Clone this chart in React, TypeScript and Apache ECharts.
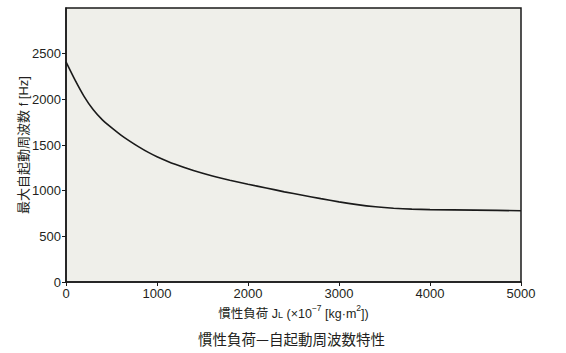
import React, { useEffect, useRef } from "react";
import * as echarts from "echarts";

const inertia = [0, 100, 200, 300, 400, 500, 600, 700, 800, 900, 1000, 1200, 1400, 1600, 1800, 2000, 2200, 2400, 2600, 2800, 3000, 3200, 3400, 3600, 3800, 4000, 4500, 5000];
const frequency = [2410, 2210, 2030, 1885, 1775, 1690, 1612, 1543, 1480, 1422, 1372, 1288, 1220, 1163, 1115, 1070, 1030, 987, 950, 913, 877, 847, 824, 808, 798, 792, 787, 780];
const yTicks = [0, 500, 1000, 1500, 2000, 2500];
const xTicks = [0, 1000, 2000, 3000, 4000, 5000];

const NUM_FONT = "'Liberation Sans', sans-serif";
const CJK_FONT = "'Liberation Sans', 'Noto Sans CJK JP', sans-serif";
const TEXT = "#231f20";

export default function App() {
  const ref = useRef<HTMLDivElement>(null);
  useEffect(() => {
    document.body.style.margin = "0";
    const chart = echarts.init(ref.current!, null, { renderer: "svg" });
    chart.setOption({
      animation: false,
      backgroundColor: "#ffffff",
      grid: {
        left: 66,
        right: 45,
        top: 8,
        bottom: 71,
        containLabel: false,
        outerBoundsMode: "none",
        show: true,
        backgroundColor: "#efefea",
        borderColor: "#1a1a1a",
        borderWidth: 1.5,
      },
      xAxis: {
        type: "value",
        min: 0,
        max: 5000,
        interval: 1000,
        splitLine: { show: false },
        axisLine: { show: true, lineStyle: { color: "#1a1a1a", width: 1.5 } },
        axisTick: { show: true, length: 4, lineStyle: { color: "#1a1a1a" }, customValues: xTicks },
        axisLabel: {
          customValues: xTicks,
          formatter: (v: number) => String(v),
          margin: 5,
          fontSize: 13,
          fontFamily: NUM_FONT,
          color: TEXT,
        },
        name: "{c|慣性負荷 J}{s|L}{c| (×10}{sup|−7}{c| [kg·m}{sup|2}{c|])}",
        nameLocation: "middle",
        nameGap: 22,
        nameMoveOverlap: false,
        nameTextStyle: {
          rich: {
            c: { fontSize: 12.5, fontFamily: CJK_FONT, color: TEXT, verticalAlign: "bottom", lineHeight: 16 },
            s: { fontSize: 9, fontFamily: CJK_FONT, color: TEXT, verticalAlign: "bottom", lineHeight: 16 },
            sup: { fontSize: 8.5, fontFamily: CJK_FONT, color: TEXT, verticalAlign: "top", lineHeight: 16 },
          },
        },
      },
      yAxis: {
        type: "value",
        min: 0,
        max: 3000,
        interval: 500,
        splitLine: { show: false },
        axisLine: { show: true, lineStyle: { color: "#1a1a1a", width: 1.5 } },
        axisTick: { show: true, length: 4, lineStyle: { color: "#1a1a1a" }, customValues: yTicks },
        axisLabel: {
          customValues: yTicks,
          formatter: (v: number) => String(v),
          margin: 5,
          fontSize: 13,
          fontFamily: NUM_FONT,
          color: TEXT,
        },
        name: "最大自起動周波数 f [Hz]",
        nameLocation: "middle",
        nameRotate: 90,
        nameGap: 36,
        nameMoveOverlap: false,
        nameTextStyle: { fontSize: 13, fontFamily: CJK_FONT, color: TEXT },
      },
      graphic: [
        {
          type: "text",
          left: 198,
          top: 331,
          style: {
            text: "慣性負荷—自起動周波数特性",
            fontSize: 14.5,
            fontFamily: "'Noto Sans CJK JP', sans-serif",
            fill: TEXT,
          },
        },
      ],
      series: [
        {
          type: "line",
          data: inertia.map((x, i) => [x, frequency[i]]),
          smooth: 0.2,
          showSymbol: false,
          lineStyle: { color: "#1a1a1a", width: 1.6 },
        },
      ],
    });
    return () => chart.dispose();
  }, []);
  return <div ref={ref} style={{ position: "absolute", left: 0, top: 0, width: 566, height: 353 }} />;
}
